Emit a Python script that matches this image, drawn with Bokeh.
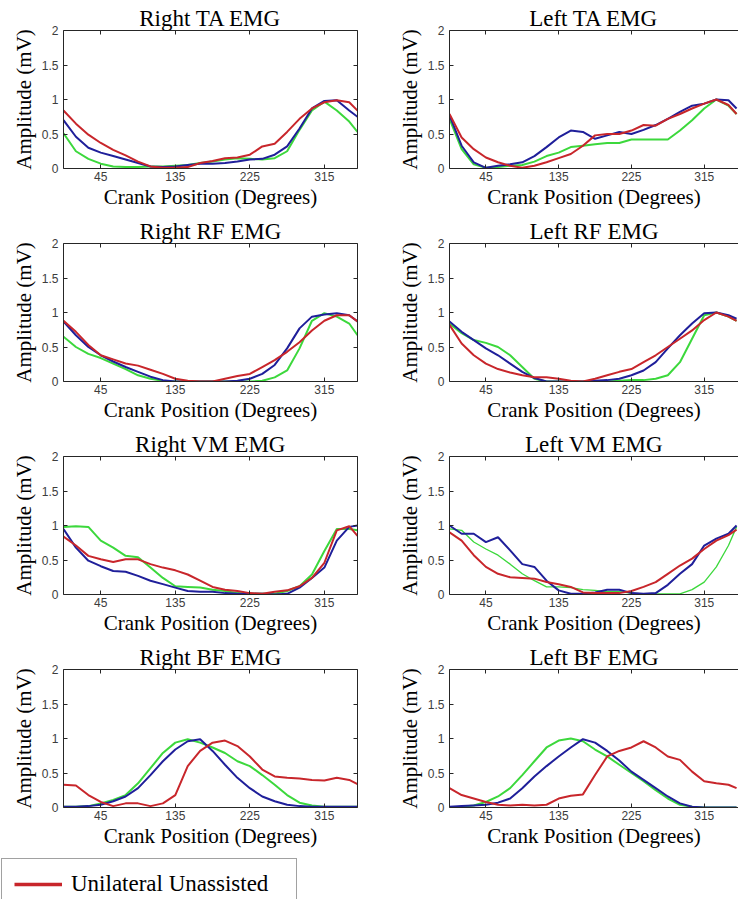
from bokeh.plotting import figure
from bokeh.layouts import column, row
from bokeh.models import LinearAxis, FixedTicker, Legend, LegendItem, Range1d
from bokeh.embed import file_html
from bokeh.resources import INLINE

# ---------------- data ----------------
CRANK = [0, 15, 30, 45, 60, 75, 90, 105, 120, 135, 150, 165, 180,
         195, 210, 225, 240, 255, 270, 285, 300, 315, 330, 345, 355]

X_TICKS = [45, 135, 225, 315]
X_TICK_LABELS = ["45", "135", "225", "315"]
Y_TICKS = [0, 0.5, 1, 1.5, 2]
Y_TICK_LABELS = ["0", "0.5", "1", "1.5", "2"]

TITLES = ["Right TA EMG", "Left TA EMG", "Right RF EMG", "Left RF EMG",
          "Right VM EMG", "Left VM EMG", "Right BF EMG", "Left BF EMG"]
X_LABEL = "Crank Position (Degrees)"
Y_LABEL = "Amplitude (mV)"
LEGEND_LABEL = "Unilateral Unassisted"

# Right TA
right_ta_red = [0.84, 0.65, 0.49, 0.37, 0.27, 0.19, 0.10, 0.03, 0.01, 0.01, 0.02, 0.08, 0.11,
                0.15, 0.16, 0.20, 0.32, 0.36, 0.53, 0.72, 0.87, 0.96, 0.99, 0.96, 0.84]
right_ta_blue = [0.70, 0.46, 0.30, 0.23, 0.18, 0.13, 0.08, 0.03, 0.02, 0.03, 0.05, 0.07, 0.07,
                 0.08, 0.10, 0.13, 0.14, 0.20, 0.32, 0.58, 0.87, 0.98, 0.99, 0.84, 0.75]
right_ta_green = [0.51, 0.25, 0.14, 0.07, 0.03, 0.02, 0.02, 0.03, 0.03, 0.04, 0.05, 0.08, 0.10,
                  0.13, 0.15, 0.14, 0.13, 0.15, 0.25, 0.56, 0.84, 0.97, 0.84, 0.68, 0.53]
# Left TA
left_ta_red = [0.79, 0.45, 0.28, 0.16, 0.09, 0.04, 0.01, 0.04, 0.09, 0.15, 0.21, 0.33, 0.48,
               0.50, 0.50, 0.55, 0.63, 0.62, 0.72, 0.79, 0.87, 0.94, 1.00, 0.92, 0.79]
left_ta_blue = [0.77, 0.33, 0.09, 0.01, 0.04, 0.06, 0.09, 0.18, 0.31, 0.45, 0.55, 0.53, 0.43,
                0.48, 0.53, 0.50, 0.56, 0.63, 0.72, 0.82, 0.91, 0.94, 1.00, 0.99, 0.87]
left_ta_green = [0.72, 0.28, 0.06, 0.01, 0.02, 0.04, 0.05, 0.10, 0.18, 0.23, 0.31, 0.33, 0.35,
                 0.37, 0.37, 0.42, 0.42, 0.42, 0.42, 0.55, 0.70, 0.87, 1.00, 0.91, 0.79]
# Right RF
right_rf_red = [0.88, 0.72, 0.53, 0.38, 0.32, 0.26, 0.23, 0.17, 0.11, 0.04, 0.01, 0.00, 0.00,
                0.04, 0.08, 0.11, 0.21, 0.31, 0.43, 0.57, 0.74, 0.88, 0.96, 0.96, 0.87]
right_rf_blue = [0.87, 0.67, 0.50, 0.38, 0.29, 0.21, 0.14, 0.07, 0.02, 0.00, 0.00, 0.00, 0.00,
                 0.00, 0.01, 0.04, 0.11, 0.24, 0.48, 0.77, 0.94, 0.97, 0.99, 0.96, 0.87]
right_rf_green = [0.65, 0.50, 0.40, 0.34, 0.26, 0.18, 0.09, 0.04, 0.01, 0.00, 0.00, 0.00, 0.00,
                  0.00, 0.00, 0.00, 0.01, 0.06, 0.16, 0.48, 0.88, 0.99, 0.94, 0.84, 0.67]
# Left RF
left_rf_red = [0.82, 0.55, 0.38, 0.26, 0.18, 0.13, 0.09, 0.06, 0.06, 0.04, 0.01, 0.00, 0.04,
               0.09, 0.14, 0.18, 0.28, 0.38, 0.50, 0.62, 0.74, 0.89, 1.00, 0.94, 0.88]
left_rf_blue = [0.87, 0.72, 0.60, 0.48, 0.38, 0.26, 0.14, 0.05, 0.00, 0.00, 0.00, 0.00, 0.01,
                0.02, 0.04, 0.09, 0.16, 0.28, 0.48, 0.67, 0.84, 0.99, 1.00, 0.96, 0.91]
left_rf_green = [0.84, 0.70, 0.60, 0.56, 0.50, 0.38, 0.21, 0.04, 0.00, 0.00, 0.00, 0.00, 0.00,
                 0.00, 0.01, 0.02, 0.02, 0.04, 0.09, 0.28, 0.62, 0.96, 1.00, 0.94, 0.88]
# Right VM
right_vm_red = [0.84, 0.71, 0.56, 0.51, 0.47, 0.51, 0.51, 0.44, 0.39, 0.35, 0.29, 0.20, 0.11,
                0.07, 0.05, 0.02, 0.01, 0.04, 0.06, 0.12, 0.24, 0.46, 0.93, 0.99, 0.85]
right_vm_blue = [0.95, 0.68, 0.49, 0.41, 0.34, 0.33, 0.27, 0.20, 0.15, 0.10, 0.05, 0.04, 0.04,
                 0.02, 0.01, 0.01, 0.01, 0.00, 0.01, 0.10, 0.24, 0.39, 0.78, 0.98, 1.00]
right_vm_green = [0.98, 0.99, 0.98, 0.78, 0.68, 0.56, 0.54, 0.39, 0.24, 0.12, 0.11, 0.10, 0.07,
                  0.05, 0.02, 0.01, 0.01, 0.01, 0.05, 0.12, 0.29, 0.63, 0.95, 0.95, 0.93]
# Left VM
left_vm_red = [0.90, 0.78, 0.57, 0.40, 0.30, 0.25, 0.24, 0.23, 0.18, 0.15, 0.11, 0.03, 0.02,
               0.02, 0.02, 0.05, 0.11, 0.18, 0.30, 0.42, 0.52, 0.66, 0.78, 0.86, 0.94]
left_vm_blue = [1.00, 0.88, 0.88, 0.76, 0.83, 0.64, 0.44, 0.40, 0.20, 0.06, 0.01, 0.01, 0.03,
                0.07, 0.07, 0.02, 0.01, 0.02, 0.14, 0.30, 0.44, 0.71, 0.81, 0.88, 1.00]
left_vm_green = [0.95, 0.93, 0.76, 0.66, 0.57, 0.44, 0.30, 0.20, 0.11, 0.11, 0.10, 0.07, 0.06,
                 0.04, 0.04, 0.02, 0.01, 0.01, 0.01, 0.01, 0.07, 0.18, 0.40, 0.71, 0.98]
# Right BF
right_bf_red = [0.33, 0.32, 0.18, 0.08, 0.02, 0.06, 0.06, 0.02, 0.06, 0.18, 0.60, 0.82, 0.94,
                0.97, 0.89, 0.74, 0.55, 0.45, 0.43, 0.42, 0.40, 0.39, 0.43, 0.40, 0.34]
right_bf_blue = [0.01, 0.01, 0.02, 0.04, 0.09, 0.16, 0.28, 0.47, 0.67, 0.84, 0.96, 0.99, 0.82,
                 0.62, 0.43, 0.28, 0.16, 0.09, 0.04, 0.02, 0.01, 0.01, 0.01, 0.01, 0.01]
right_bf_green = [0.01, 0.01, 0.02, 0.06, 0.11, 0.18, 0.35, 0.57, 0.79, 0.94, 0.99, 0.94, 0.87,
                  0.79, 0.67, 0.60, 0.47, 0.33, 0.18, 0.07, 0.03, 0.01, 0.01, 0.01, 0.01]
# Left BF
left_bf_red = [0.28, 0.18, 0.13, 0.08, 0.04, 0.03, 0.04, 0.03, 0.04, 0.13, 0.17, 0.19, 0.47,
               0.74, 0.82, 0.87, 0.96, 0.87, 0.74, 0.69, 0.52, 0.38, 0.35, 0.33, 0.28]
left_bf_blue = [0.01, 0.02, 0.03, 0.04, 0.07, 0.13, 0.28, 0.45, 0.60, 0.74, 0.87, 0.99, 0.94,
                0.82, 0.68, 0.52, 0.40, 0.28, 0.16, 0.06, 0.01, 0.00, 0.00, 0.00, 0.00]
left_bf_green = [0.00, 0.01, 0.03, 0.08, 0.16, 0.28, 0.47, 0.67, 0.87, 0.97, 1.00, 0.96, 0.84,
                 0.74, 0.62, 0.50, 0.38, 0.25, 0.13, 0.04, 0.01, 0.00, 0.00, 0.00, 0.00]

PANEL_SERIES = [
    (right_ta_red, right_ta_blue, right_ta_green),
    (left_ta_red, left_ta_blue, left_ta_green),
    (right_rf_red, right_rf_blue, right_rf_green),
    (left_rf_red, left_rf_blue, left_rf_green),
    (right_vm_red, right_vm_blue, right_vm_green),
    (left_vm_red, left_vm_blue, left_vm_green),
    (right_bf_red, right_bf_blue, right_bf_green),
    (left_bf_red, left_bf_blue, left_bf_green),
]

# ---------------- style ----------------
RED = "#c8262b"
BLUE = "#1f1f9a"
GREEN = "#3cd83c"
AXIS_COLOR = "#262626"
TICK_LABEL_COLOR = "#3c3c3c"
SERIF = "Liberation Serif"
SANS = "Liberation Sans"

ROW_H = 213


def base_axis(ax, ticks):
    ax.ticker = FixedTicker(ticks=ticks)
    ax.major_tick_in = 4
    ax.major_tick_out = 0
    ax.minor_tick_line_color = None
    ax.axis_line_color = AXIS_COLOR
    ax.axis_line_width = 1
    ax.major_tick_line_color = AXIS_COLOR


def blank_axis(ax):
    # tick marks only, labels not drawn
    ax.major_label_text_color = None
    ax.major_label_text_font_size = "1px"
    ax.major_label_standoff = 0


def make_panel(idx):
    left_col = idx % 2 == 0
    if left_col:
        width, mbl, mbr, x_end = 370, 63, 13, 355
    else:
        width, mbl, mbr, x_end = 368, 79, 0, 357.4
    p = figure(width=width, height=ROW_H,
               x_range=Range1d(0, x_end), y_range=Range1d(0, 2),
               x_axis_type=None, y_axis_type=None,
               output_backend="svg", toolbar_location=None,
               title=TITLES[idx],
               min_border_left=mbl, min_border_right=mbr,
               min_border_top=30, min_border_bottom=45)
    p.outline_line_color = None
    p.background_fill_color = "white"
    p.border_fill_color = "white"
    p.title.text_font = SERIF
    p.title.text_font_size = "23px"
    p.title.text_font_style = "normal"
    p.title.text_color = "black"
    p.title.align = "center"
    p.title.standoff = 0

    xb = LinearAxis(axis_label=X_LABEL)
    base_axis(xb, X_TICKS)
    xb.major_label_overrides = dict(zip(X_TICKS, X_TICK_LABELS))
    xb.major_label_text_font = SANS
    xb.major_label_text_font_size = "12px"
    xb.major_label_text_color = TICK_LABEL_COLOR
    xb.major_label_standoff = 3
    xb.axis_label_text_font = SERIF
    xb.axis_label_text_font_size = "21px"
    xb.axis_label_text_font_style = "normal"
    xb.axis_label_text_color = "black"
    xb.axis_label_standoff = 1
    p.add_layout(xb, "below")

    yl = LinearAxis(axis_label=Y_LABEL)
    base_axis(yl, Y_TICKS)
    yl.major_label_overrides = dict(zip(Y_TICKS, Y_TICK_LABELS))
    yl.major_label_text_font = SANS
    yl.major_label_text_font_size = "12px"
    yl.major_label_text_color = TICK_LABEL_COLOR
    yl.major_label_standoff = 5
    yl.axis_label_text_font = SERIF
    yl.axis_label_text_font_size = "21px"
    yl.axis_label_text_font_style = "normal"
    yl.axis_label_text_color = "black"
    yl.axis_label_standoff = 3
    p.add_layout(yl, "left")

    xa = LinearAxis()
    base_axis(xa, X_TICKS)
    blank_axis(xa)
    p.add_layout(xa, "above")

    if left_col:
        yr = LinearAxis()
        base_axis(yr, Y_TICKS)
        blank_axis(yr)
        p.add_layout(yr, "right")

    red, blue, green = PANEL_SERIES[idx]
    green_w = 1.3 if TITLES[idx] == "Left VM EMG" else 2.0
    p.line(CRANK, green, line_color=GREEN, line_width=green_w)
    p.line(CRANK, blue, line_color=BLUE, line_width=2.0)
    p.line(CRANK, red, line_color=RED, line_width=2.0)
    return p


panels = [make_panel(i) for i in range(8)]
rows = [row(panels[i], panels[i + 1]) for i in range(0, 8, 2)]

LEG_H = 899 - 4 * ROW_H
leg = figure(width=300, height=LEG_H, x_range=Range1d(0, 1), y_range=Range1d(0, 1),
             x_axis_type=None, y_axis_type=None,
             output_backend="svg", toolbar_location=None, min_border=0)
leg.outline_line_color = None
# renderer only used for its legend entry (its points lie outside the view)
r = leg.line(x=[5, 6], y=[5, 6], line_color=RED, line_width=3.5)
legend = Legend(items=[LegendItem(label=LEGEND_LABEL, renderers=[r])],
                location=(1, LEG_H - 8 - 50), margin=0, padding=12,
                glyph_width=48, glyph_height=24, label_standoff=9, label_width=213,
                label_text_font=SERIF, label_text_font_size="23px",
                label_text_color="black",
                border_line_color="#444444", border_line_width=1.3,
                background_fill_color="white", background_fill_alpha=1.0)
leg.add_layout(legend)

layout = column(*rows, leg)

open("out.html", "w").write(file_html(layout, INLINE))
